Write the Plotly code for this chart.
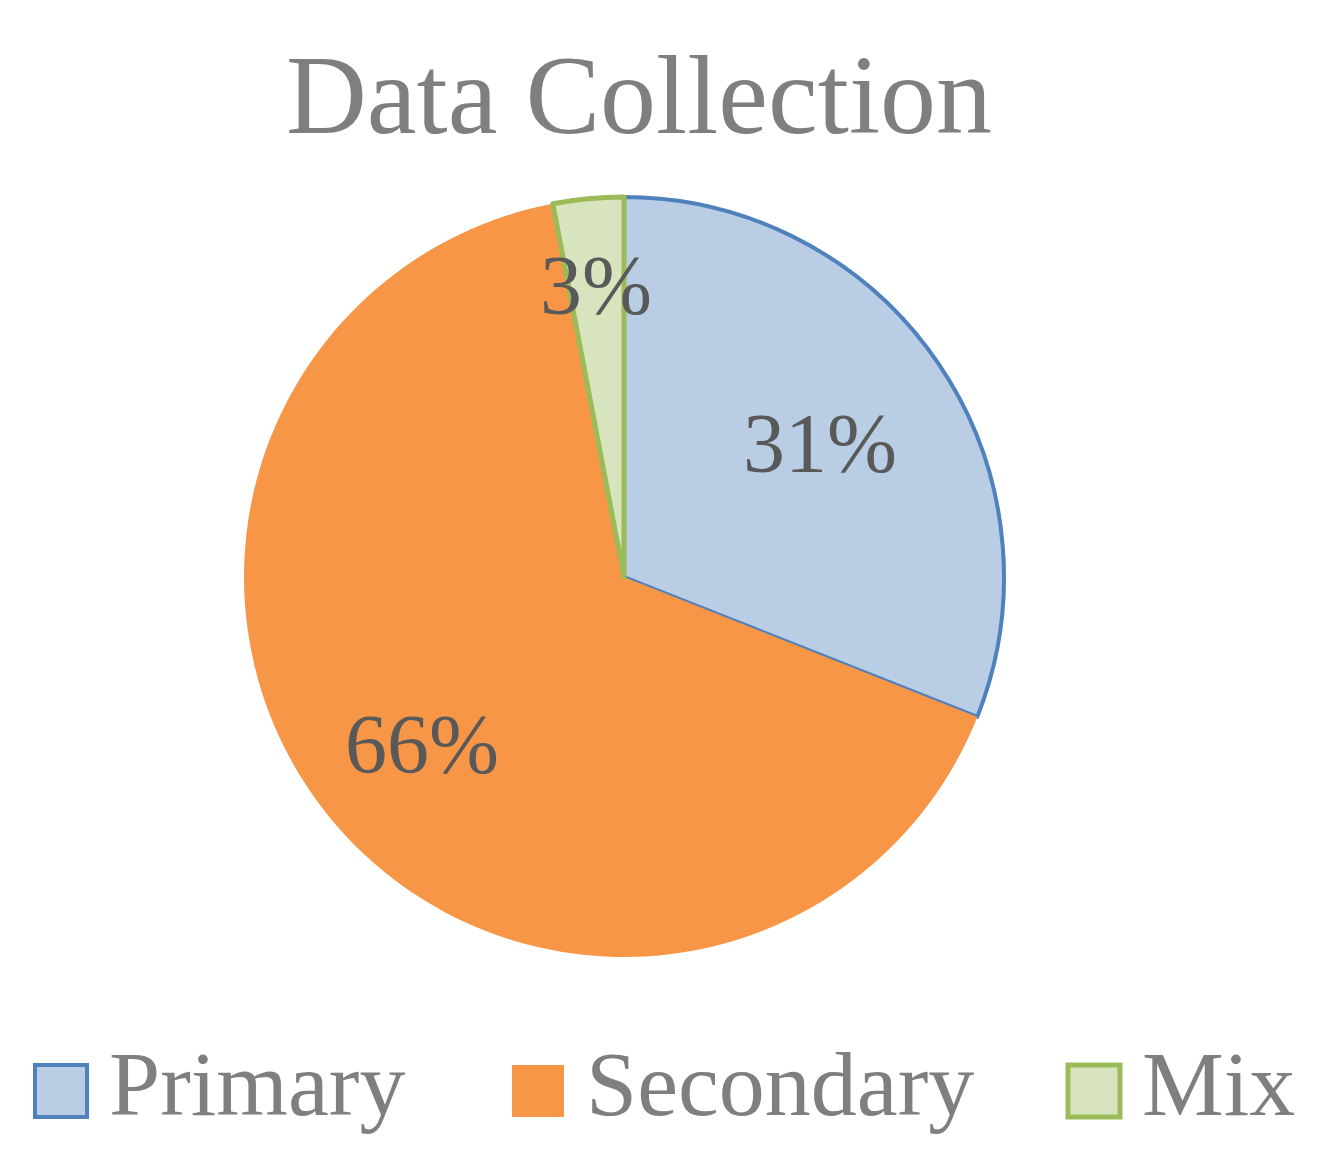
import math

import plotly.graph_objects as go

# data
categories = ["Primary", "Secondary", "Mix"]
shares = [31, 66, 3]

fill_colors = ["#B9CDE5", "#F79646", "#D7E4BD"]
edge_colors = ["#4F81BD", "#F79646", "#9BBB59"]
edge_widths = [4, 0, 5]
# how far out (fraction of radius) each percentage label sits
label_radius = [0.625, 0.69, 0.77]

# the html page has an 8px body margin, so work in page pixels and convert
PAD = 8
W, H = 1332 - 2 * PAD, 1176 - 2 * PAD
FONT = "Liberation Serif"


def px(x):
    return (x - PAD) / W


def py(y):
    return 1 - (y - PAD) / H


cx, cy, R = 624, 577, 380

fig = go.Figure()
fig.add_trace(
    go.Pie(
        labels=categories,
        values=shares,
        sort=False,
        direction="clockwise",
        rotation=0,
        marker=dict(colors=fill_colors, line=dict(color=edge_colors, width=edge_widths)),
        textinfo="none",
        showlegend=False,
        hoverinfo="label+percent",
        domain=dict(x=[px(cx - R), px(cx + R)], y=[py(cy + R), py(cy - R)]),
    )
)

annotations = []

# percentage labels, placed on each slice's bisector
total = sum(shares)
start = 0.0
for i, v in enumerate(shares):
    mid = (start + v / 2) / total * 2 * math.pi
    start += v
    r = R * label_radius[i]
    annotations.append(
        dict(
            text=f"{round(100 * v / total)}%",
            xref="paper", yref="paper",
            x=px(cx + r * math.sin(mid)), y=py(cy - r * math.cos(mid)),
            xanchor="center", yanchor="middle", showarrow=False,
            font=dict(family=FONT, size=84, color="#595959"),
        )
    )

# legend drawn by hand so the swatches can be as big as in the original
legend_x = [35, 512, 1068]
box = 52
legend_y = 1091
shapes = []
for i, name in enumerate(categories):
    x0 = legend_x[i]
    shapes.append(
        dict(
            type="rect", xref="paper", yref="paper",
            x0=px(x0), x1=px(x0 + box),
            y0=py(legend_y + box / 2), y1=py(legend_y - box / 2),
            fillcolor=fill_colors[i],
            line=dict(color=edge_colors[i], width=edge_widths[i] if edge_widths[i] else 0),
        )
    )
    annotations.append(
        dict(
            text=name, xref="paper", yref="paper",
            x=px(x0 + box + 20), y=py(legend_y - 7),
            xanchor="left", yanchor="middle", showarrow=False,
            font=dict(family=FONT, size=92, color="#7F7F7F"),
        )
    )

fig.update_layout(
    width=W,
    height=H,
    margin=dict(l=0, r=0, t=0, b=0),
    paper_bgcolor="white",
    plot_bgcolor="white",
    title=dict(
        text="Data Collection",
        x=px(639), xanchor="center",
        y=py(94), yanchor="middle",
        font=dict(family=FONT, size=112, color="#7F7F7F"),
    ),
    shapes=shapes,
    annotations=annotations,
)

fig.write_html("out.html")
